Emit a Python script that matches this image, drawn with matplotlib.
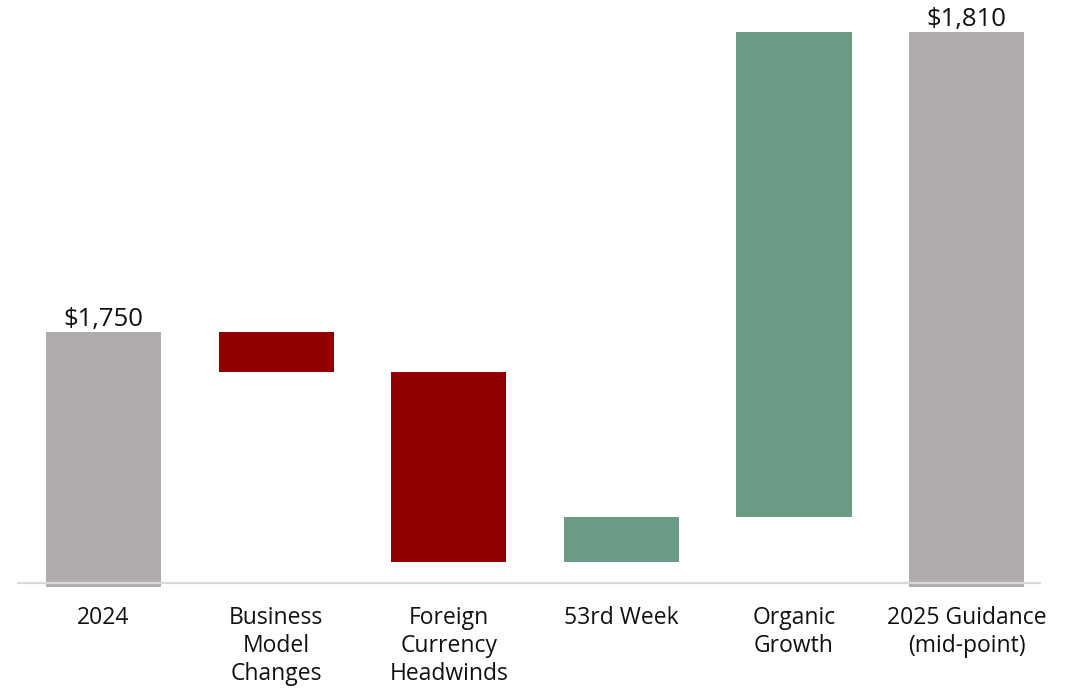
import matplotlib
matplotlib.use("Agg")
import matplotlib.pyplot as plt
import numpy as np

plt.rcParams['font.family'] = ['Open Sans', 'DejaVu Sans']

categories = ["2024", "Business\nModel\nChanges", "Foreign\nCurrency\nHeadwinds",
              "53rd Week", "Organic\nGrowth", "2025 Guidance\n(mid-point)"]
start_value = 1750
changes = [-8, -38, 9, 97]
end_value = 1810
total_labels = ["$1,750", "$1,810"]

gray = "#B0ACAB"
red = "#8E0000"
green = "#6A9C85"

axis_floor = 1699

fig = plt.figure(figsize=(10.74, 6.89), dpi=100)
ax = fig.add_axes([17/1074, (689-587)/689, (1041-17)/1074, 587/689])

x = np.arange(len(categories))
w = 0.667

# totals
ax.bar(x[0], start_value - axis_floor, bottom=axis_floor, width=w, color=gray)
ax.bar(x[-1], end_value - axis_floor, bottom=axis_floor, width=w, color=gray)

running = start_value
for i, c in enumerate(changes, start=1):
    bottom = running + min(c, 0)
    ax.bar(x[i], abs(c), bottom=bottom, width=w, color=red if c < 0 else green)
    running += c

for xi, val, lab in [(x[0], start_value, total_labels[0]), (x[-1], end_value, total_labels[1])]:
    ax.annotate(lab, (xi, val), xytext=(0, 0), textcoords="offset points",
                ha="center", va="bottom", fontsize=18.5, color="#111111")

ax.axhline(1699.8, color="#D9D9D9", lw=1.6, zorder=3)

ax.set_xlim(-0.501, 5.431)
ax.set_ylim(axis_floor, axis_floor + 587/5)
ax.set_xticks(x)
ax.set_xticklabels(categories, fontsize=16.5, color="#111111", linespacing=1.2)
ax.tick_params(axis="x", length=0, pad=14)
ax.set_yticks([])
for s in ax.spines.values():
    s.set_visible(False)

fig.savefig("out.png", dpi=100)
